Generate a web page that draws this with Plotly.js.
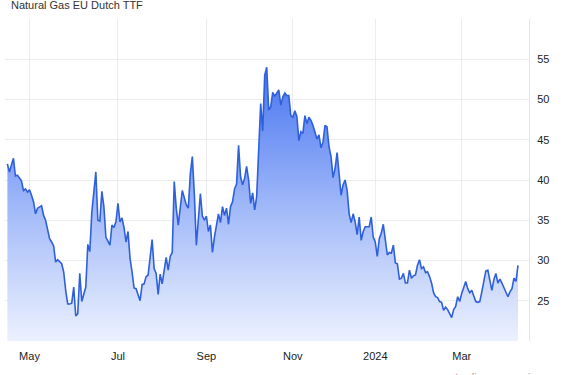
<!DOCTYPE html>
<html>
<head>
<meta charset="utf-8">
<script src="https://cdn.plot.ly/plotly-3.0.1.min.js"></script>
<style>
  html, body { margin: 0; padding: 0; background: #ffffff; }
  #chart { width: 577px; height: 375px; }
</style>
</head>
<body>
<div id="chart"></div>
<script>
// ---- data (EUR/MWh, trading days) ----
const chartTitle = 'Natural Gas EU Dutch TTF';
const sourceText = 'source: tradingeconomics.com';

const dates = [
  '2023-04-14','2023-04-17','2023-04-19','2023-04-20','2023-04-21',
  '2023-04-24','2023-04-25','2023-04-26','2023-04-27','2023-04-28',
  '2023-05-02','2023-05-03','2023-05-04','2023-05-05',
  '2023-05-08','2023-05-10','2023-05-11','2023-05-12',
  '2023-05-15','2023-05-16','2023-05-17','2023-05-18','2023-05-19',
  '2023-05-22','2023-05-24','2023-05-25','2023-05-26',
  '2023-05-29','2023-05-30','2023-05-31','2023-06-01','2023-06-02',
  '2023-06-05','2023-06-06','2023-06-07','2023-06-08','2023-06-09',
  '2023-06-12','2023-06-13','2023-06-14','2023-06-16',
  '2023-06-19','2023-06-20','2023-06-21','2023-06-22','2023-06-23',
  '2023-06-27','2023-06-28','2023-06-29','2023-06-30',
  '2023-07-03','2023-07-04','2023-07-05','2023-07-06','2023-07-07',
  '2023-07-10','2023-07-11','2023-07-12','2023-07-13','2023-07-14',
  '2023-07-18','2023-07-19','2023-07-20','2023-07-21',
  '2023-07-24','2023-07-26','2023-07-27','2023-07-28',
  '2023-07-31','2023-08-01','2023-08-02','2023-08-03','2023-08-04',
  '2023-08-07','2023-08-08','2023-08-09','2023-08-10','2023-08-11',
  '2023-08-14','2023-08-16','2023-08-17','2023-08-18',
  '2023-08-21','2023-08-22','2023-08-23','2023-08-24','2023-08-25',
  '2023-08-28','2023-08-29','2023-08-30','2023-08-31','2023-09-01',
  '2023-09-04','2023-09-05','2023-09-06','2023-09-07','2023-09-08',
  '2023-09-11','2023-09-12','2023-09-13','2023-09-14','2023-09-15',
  '2023-09-18','2023-09-19','2023-09-20','2023-09-21','2023-09-22',
  '2023-09-25','2023-09-26','2023-09-27','2023-09-28','2023-09-29',
  '2023-10-02','2023-10-03','2023-10-04','2023-10-05','2023-10-06',
  '2023-10-09','2023-10-10','2023-10-11','2023-10-12','2023-10-13',
  '2023-10-16','2023-10-17','2023-10-18','2023-10-19','2023-10-20',
  '2023-10-23','2023-10-24','2023-10-25','2023-10-26','2023-10-27',
  '2023-10-30','2023-10-31','2023-11-01','2023-11-02','2023-11-03',
  '2023-11-06','2023-11-07','2023-11-08','2023-11-09','2023-11-10',
  '2023-11-13','2023-11-14','2023-11-15','2023-11-16','2023-11-17',
  '2023-11-20','2023-11-21','2023-11-22','2023-11-23','2023-11-24',
  '2023-11-27','2023-11-28','2023-11-29','2023-11-30','2023-12-01',
  '2023-12-04','2023-12-05','2023-12-06','2023-12-07','2023-12-08',
  '2023-12-11','2023-12-12','2023-12-13','2023-12-14','2023-12-15',
  '2023-12-18','2023-12-19','2023-12-20','2023-12-21','2023-12-22',
  '2023-12-27','2023-12-28','2023-12-29',
  '2024-01-02','2024-01-03','2024-01-04','2024-01-05',
  '2024-01-08','2024-01-09','2024-01-10','2024-01-11','2024-01-12',
  '2024-01-15','2024-01-16','2024-01-17','2024-01-18','2024-01-19',
  '2024-01-22','2024-01-23','2024-01-24','2024-01-25','2024-01-26',
  '2024-01-29','2024-01-30','2024-01-31','2024-02-01','2024-02-02',
  '2024-02-05','2024-02-06','2024-02-07','2024-02-08','2024-02-09',
  '2024-02-12','2024-02-13','2024-02-14','2024-02-15','2024-02-16',
  '2024-02-19','2024-02-20','2024-02-21','2024-02-22','2024-02-23',
  '2024-02-26','2024-02-27','2024-02-28','2024-02-29','2024-03-01',
  '2024-03-04','2024-03-05','2024-03-06','2024-03-07','2024-03-08',
  '2024-03-12','2024-03-13','2024-03-14','2024-03-15',
  '2024-03-18','2024-03-19','2024-03-20','2024-03-21','2024-03-22',
  '2024-03-25','2024-03-26','2024-03-27','2024-03-28',
  '2024-04-02','2024-04-03','2024-04-04','2024-04-05',
  '2024-04-08','2024-04-09','2024-04-10','2024-04-11','2024-04-12'
];

const prices = [
  42.0,41.0,42.7,40.5,40.6,
  40.2,39.9,38.7,38.9,38.5,
  38.8,38.1,37.3,35.8,
  36.5,36.8,35.6,35.0,
  34.0,32.7,32.3,31.8,29.8,
  30.1,29.6,28.6,26.3,
  24.6,24.6,24.7,26.7,23.1,
  23.4,28.4,24.9,25.9,26.7,
  32.0,31.1,36.0,41.0,
  35.0,34.9,38.6,36.7,32.9,
  31.9,34.4,34.1,34.8,
  37.1,34.8,35.3,34.1,32.3,
  33.6,30.3,28.6,26.6,26.5,
  25.0,27.0,27.1,28.0,
  28.2,32.6,29.0,28.4,
  25.8,28.3,27.1,28.8,30.4,
  28.8,30.5,31.0,39.8,36.5,
  34.4,38.7,37.7,36.9,
  36.5,40.8,42.9,38.3,31.9,
  35.4,38.3,35.5,35.0,35.5,
  33.6,34.4,31.0,32.9,34.6,
  35.8,34.7,36.7,35.6,36.5,
  34.5,36.7,37.3,38.9,39.5,
  44.3,40.4,39.4,40.2,41.7,
  40.0,37.1,38.4,36.3,37.9,
  44.9,49.5,46.1,53.0,54.0,
  48.7,49.1,50.9,50.4,50.9,
  51.2,49.3,50.3,50.8,50.5,
  50.5,48.0,47.8,48.6,47.9,
  44.9,46.0,45.8,48.0,47.0,
  47.8,47.4,46.8,46.0,45.1,
  45.6,44.0,44.7,46.8,46.6,
  44.1,42.9,40.3,41.4,43.4,
  40.8,38.1,39.4,40.0,38.7,
  35.8,34.7,35.8,34.8,33.2,
  35.4,32.5,33.6,34.2,34.2,
  34.2,35.4,32.9,
  32.3,30.5,32.7,33.4,
  34.5,32.5,30.7,31.0,30.9,
  31.9,29.7,29.6,27.7,27.8,
  28.4,27.2,27.2,28.8,27.8,
  28.1,28.2,29.4,30.1,29.0,
  29.2,28.5,28.6,28.0,27.2,
  26.0,25.5,25.4,24.9,24.8,
  23.8,24.2,23.9,23.4,22.9,
  23.9,24.3,25.5,24.9,25.9,
  26.7,27.4,26.5,26.0,26.3,
  24.9,24.8,24.9,26.1,
  27.2,28.7,28.8,27.6,26.3,
  27.6,28.4,27.2,27.7,
  27.2,26.7,26.1,25.5,
  26.1,26.5,27.8,27.4,29.4
];

// market holidays (no trading)
const holidays = ['2023-05-01','2023-12-25','2023-12-26','2024-01-01','2024-03-29','2024-04-01'];

const xTickDates  = ['2023-05-02','2023-07-03','2023-09-01','2023-11-01','2024-01-02','2024-03-01'];
const xTickLabels = ['May','Jul','Sep','Nov','2024','Mar'];
const yTickValues = [20,25,30,35,40,45,50,55,60];
const yTickLabels = ['','25','30','35','40','45','50','55',''];
const xRange = ['2023-04-12 19:26','2024-04-19 11:30'];
const yRange = [20, 60];

const fontFamily = '"Liberation Sans", Arial, Helvetica, sans-serif';

const trace = {
  type: 'scatter',
  mode: 'lines',
  x: dates,
  y: prices,
  line: { color: '#2e60dc', width: 1.6 },
  fill: 'tozeroy',
  fillgradient: {
    type: 'vertical',
    start: 20,
    stop: 55,
    colorscale: [
      [0, 'rgba(236,241,254,1)'],
      [0.45, 'rgba(165,188,249,1)'],
      [1, 'rgba(66,112,240,1)']
    ]
  },
  hoverinfo: 'skip'
};

const layout = {
  width: 577,
  height: 375,
  margin: { l: 5, r: 48, t: 19, b: 34, pad: 0 },
  paper_bgcolor: '#ffffff',
  plot_bgcolor: '#ffffff',
  showlegend: false,
  font: { family: fontFamily, size: 11, color: '#333333' },
  xaxis: {
    type: 'date',
    range: xRange,
    rangebreaks: [
      { bounds: ['sat', 'mon'] },
      { values: holidays }
    ],
    tickmode: 'array',
    tickvals: xTickDates,
    ticktext: xTickLabels,
    ticks: '',
    ticklabelstandoff: 7,
    showgrid: true,
    gridcolor: '#ececec',
    gridwidth: 1,
    showline: false,
    zeroline: false,
    tickfont: { family: fontFamily, size: 11, color: '#222222' },
    fixedrange: true
  },
  yaxis: {
    side: 'right',
    range: yRange,
    tickmode: 'array',
    tickvals: yTickValues,
    ticktext: yTickLabels,
    ticks: '',
    ticklabelstandoff: 5,
    showgrid: true,
    gridcolor: '#ececec',
    gridwidth: 1,
    showline: true,
    linecolor: '#e6e6e6',
    linewidth: 1,
    zeroline: false,
    tickfont: { family: fontFamily, size: 11, color: '#222222' },
    fixedrange: true
  },
  annotations: [
    {
      text: chartTitle,
      xref: 'paper', yref: 'paper',
      x: 0, y: 1, xanchor: 'left', yanchor: 'middle',
      xshift: 4, yshift: 14.5,
      showarrow: false,
      font: { family: fontFamily, size: 11, color: '#333333' }
    },
    {
      text: sourceText,
      xref: 'paper', yref: 'paper',
      x: 1, y: 0, xanchor: 'right', yanchor: 'top',
      xshift: 38, yshift: -28,
      showarrow: false,
      font: { family: fontFamily, size: 11, color: '#9a9a9a' }
    }
  ]
};

Plotly.newPlot('chart', [trace], layout, { staticPlot: true, displayModeBar: false });
</script>
</body>
</html>
